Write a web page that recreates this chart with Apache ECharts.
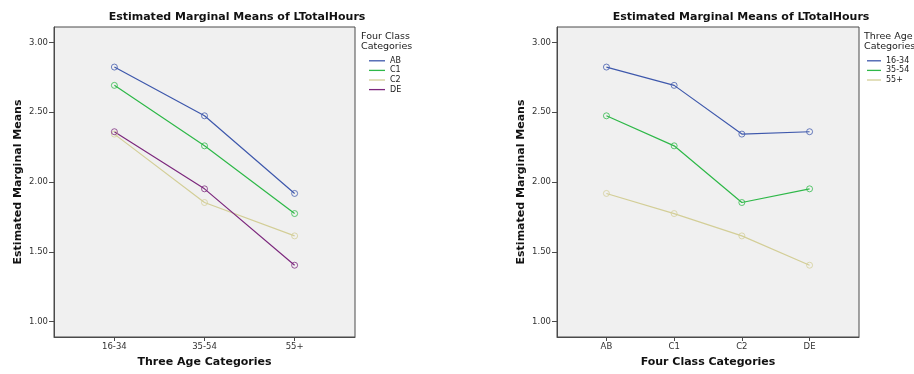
<!DOCTYPE html>
<html>
<head>
<meta charset="utf-8">
<script src="https://cdn.jsdelivr.net/npm/echarts@6/dist/echarts.min.js"></script>
<style>
  html, body { margin: 0; padding: 0; background: #fff; }
  #chart { width: 914px; height: 374px; }
</style>
</head>
<body>
<div id="chart"></div>
<script>
    // estimated marginal means, one array per class, values per age group
    var ageCats = ['16-34', '35-54', '55+'];
    var classCats = ['AB', 'C1', 'C2', 'DE'];
    var meanAB = [2.823, 2.474, 1.918];
    var meanC1 = [2.692, 2.259, 1.774];
    var meanC2 = [2.343, 1.853, 1.614];
    var meanDE = [2.360, 1.951, 1.404];
    var yTicks = [1.0, 1.5, 2.0, 2.5, 3.0];

    var colors = ['#3e58ac', '#2eb848', '#d3ce97', '#7c287d'];
    var byClass = [meanAB, meanC1, meanC2, meanDE];
    var font = 'DejaVu Sans';
    var axisColor = '#4a4a4a';

    function xAxis(idx, cats, min, max) {
        var ticks = cats.map(function (c, i) { return i; });
        return {
            type: 'value', gridIndex: idx, min: min, max: max,
            splitLine: { show: false },
            axisLine: { onZero: false, lineStyle: { color: axisColor } },
            axisTick: { length: 4, customValues: ticks, lineStyle: { color: axisColor } },
            axisLabel: {
                customValues: ticks, margin: 5, fontSize: 8.5, color: '#333', fontFamily: font,
                formatter: function (v) { return cats[Math.round(v)]; }
            },
            name: idx === 0 ? 'Three Age Categories' : 'Four Class Categories',
            nameLocation: 'middle', nameGap: 20,
            nameTextStyle: { fontSize: 11, fontWeight: 'bold', color: '#111', fontFamily: font }
        };
    }
    function yAxis(idx) {
        return {
            type: 'value', gridIndex: idx, min: 0.89, max: 3.11,
            splitLine: { show: false },
            axisLine: { onZero: false, lineStyle: { color: axisColor } },
            axisTick: { length: 5, customValues: yTicks, lineStyle: { color: axisColor } },
            axisLabel: {
                customValues: yTicks, margin: 6, fontSize: 8.5, color: '#333', fontFamily: font,
                formatter: function (v) { return v.toFixed(2); }
            },
            name: 'Estimated Marginal Means',
            nameLocation: 'middle', nameGap: 30,
            nameTextStyle: { fontSize: 11, fontWeight: 'bold', color: '#111', fontFamily: font }
        };
    }
    function lineSeries(name, idx, data, color) {
        return {
            name: name, type: 'line', xAxisIndex: idx, yAxisIndex: idx,
            data: data,
            symbol: 'circle', symbolSize: 6,
            lineStyle: { width: 1.2, color: color },
            itemStyle: { color: 'transparent', borderColor: color, borderWidth: 0.9, opacity: 0.85 },
            emphasis: { disabled: true },
            animation: false
        };
    }

    var series = [];
    classCats.forEach(function (c, i) {
        series.push(lineSeries(c, 0, byClass[i].map(function (v, j) { return [j, v]; }), colors[i]));
    });
    ageCats.forEach(function (a, j) {
        series.push(lineSeries(a, 1, byClass.map(function (arr, i) { return [i, arr[j]]; }), colors[j]));
    });

    function legendData(names) {
        return names.map(function (n, i) {
            return { name: n, itemStyle: { color: colors[i], borderWidth: 0, opacity: 1 } };
        });
    }
    var legendBase = {
        orient: 'vertical', icon: 'rect', itemHeight: 1.3, itemGap: 0,
        selectedMode: false, symbolKeepAspect: false,
        textStyle: { fontSize: 8, lineHeight: 9.6, color: '#222', fontFamily: font }
    };

    var chart = echarts.init(document.getElementById('chart'));
    chart.setOption({
        animation: false,
        textStyle: { fontFamily: font },
        grid: [
            { left: 54, top: 27, width: 301, height: 310, show: true, backgroundColor: '#f0f0f0', borderColor: axisColor, borderWidth: 1 },
            { left: 557, top: 27, width: 302, height: 310, show: true, backgroundColor: '#f0f0f0', borderColor: axisColor, borderWidth: 1 }
        ],
        xAxis: [xAxis(0, ageCats, -0.67, 2.67), xAxis(1, classCats, -0.73, 3.73)],
        yAxis: [yAxis(0), yAxis(1)],
        legend: [
            Object.assign({}, legendBase, { data: legendData(classCats), left: 369, top: 56, itemWidth: 16, padding: 0 }),
            Object.assign({}, legendBase, { data: legendData(ageCats), left: 867, top: 56, itemWidth: 14, padding: 0 })
        ],
        graphic: [
            { type: 'text', x: 237, y: 17, style: { text: 'Estimated Marginal Means of LTotalHours', align: 'center', verticalAlign: 'middle', font: 'bold 11px "DejaVu Sans"', fill: '#111' } },
            { type: 'text', x: 741, y: 17, style: { text: 'Estimated Marginal Means of LTotalHours', align: 'center', verticalAlign: 'middle', font: 'bold 11px "DejaVu Sans"', fill: '#111' } },
            { type: 'text', x: 361, y: 31.5, style: { text: 'Four Class\nCategories', lineHeight: 10, font: '9.5px "DejaVu Sans"', fill: '#222' } },
            { type: 'text', x: 864, y: 31.5, style: { text: 'Three Age\nCategories', lineHeight: 10, font: '9.5px "DejaVu Sans"', fill: '#222' } }
        ],
        series: series
    });
</script>
</body>
</html>
